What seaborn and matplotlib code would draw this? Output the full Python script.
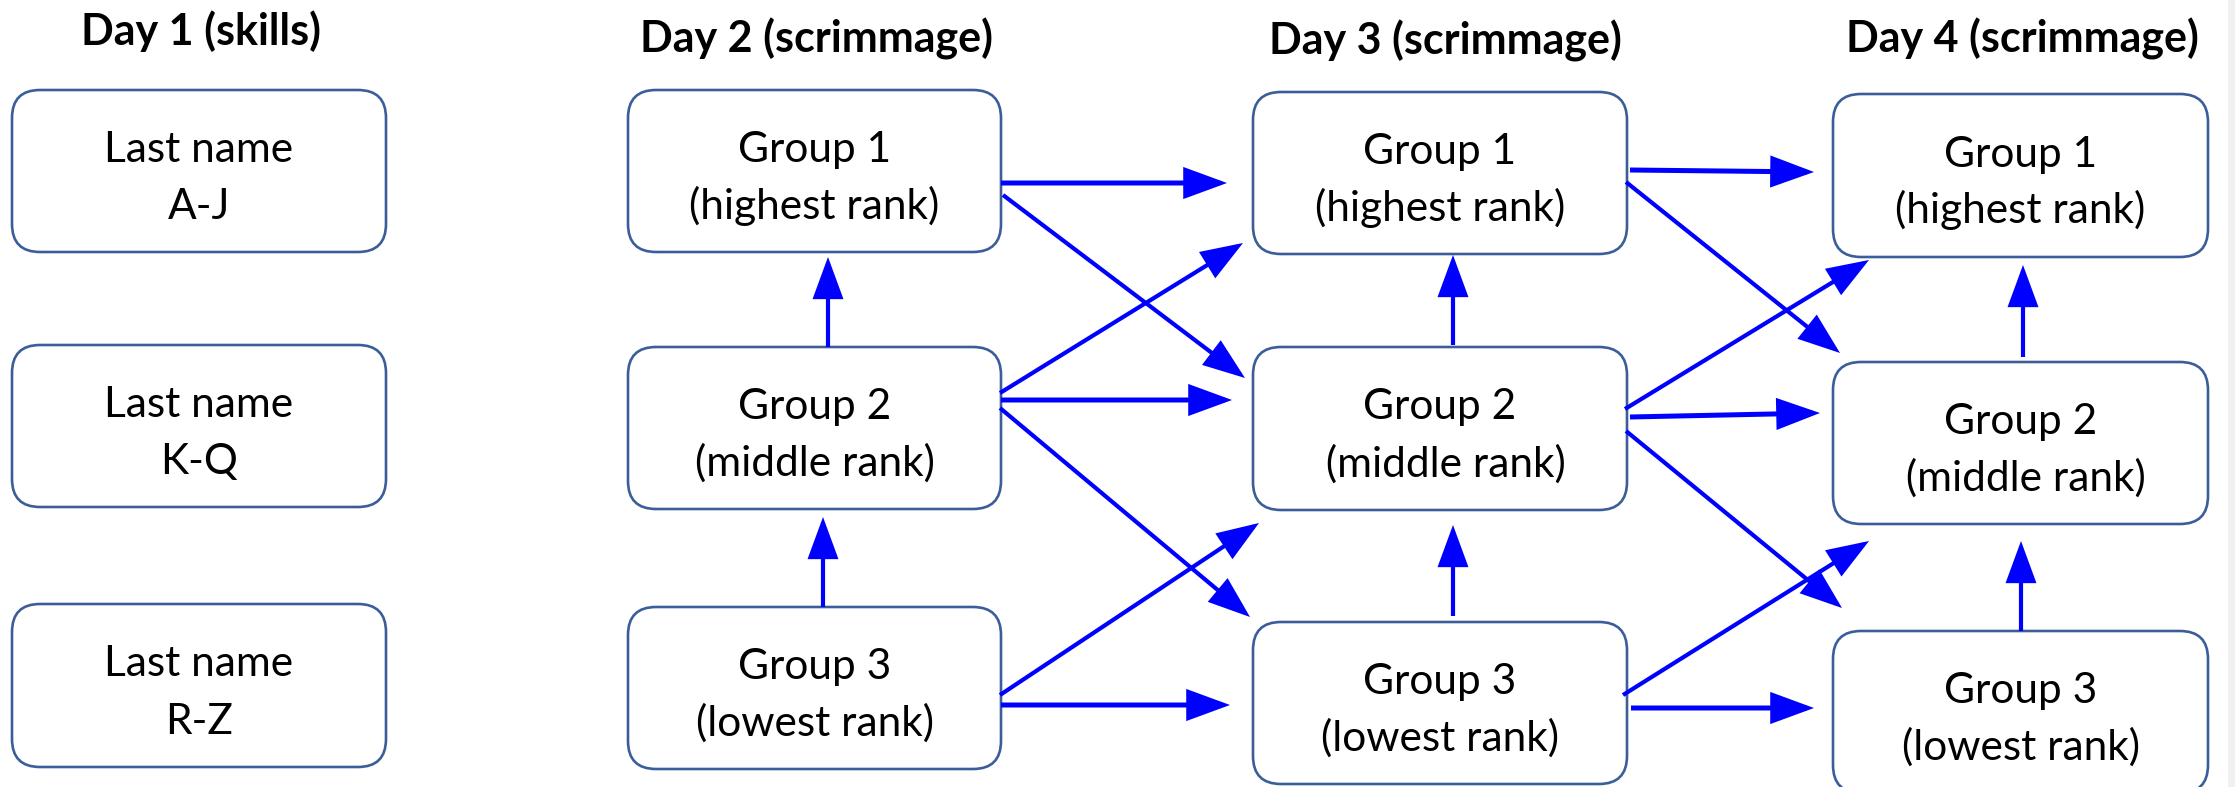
import matplotlib
matplotlib.use("Agg")
import matplotlib.pyplot as plt
from matplotlib.patches import FancyBboxPatch, FancyArrowPatch, Rectangle
import seaborn as sns

# ---------------- content ----------------
day_titles = ["Day 1 (skills)", "Day 2 (scrimmage)", "Day 3 (scrimmage)", "Day 4 (scrimmage)"]
day1_labels = ["Last name\nA-J", "Last name\nK-Q", "Last name\nR-Z"]
group_names = ["Group 1", "Group 2", "Group 3"]
group_ranks = ["(highest rank)", "(middle rank)", "(lowest rank)"]
# leading space before the rank text, as typed in the original boxes
rank_prefix = [["", "", ""], ["", " ", ""], ["", " ", ""]]

# moves between days (from group -> to group), and promotions within a day (lower -> upper)
day_moves = [(1, 1), (1, 2), (2, 1), (2, 2), (2, 3), (3, 2), (3, 3)]
in_day_moves = [(2, 1), (3, 2)]

# ---------------- layout (pixels) ----------------
W, H = 2235, 787
box_x = [(12, 386), (628, 1001), (1253, 1627), (1833, 2208)]
box_y = [[(90, 252), (345, 507), (604, 767)],
         [(90, 252), (347, 509), (607, 769)],
         [(92, 254), (347, 510), (622, 784)],
         [(94, 257), (362, 524), (631, 793)]]
title_pos = [(201, 45), (816, 53), (1445, 54), (2022, 53)]

# arrow anchors: (transition day index, from, to) -> (start, tip)
move_anchor = {
    (1, 1, 1): ((1001, 183), (1227, 183)),
    (1, 1, 2): ((1003, 195), (1245, 378)),
    (1, 2, 1): ((1000, 393), (1243, 243)),
    (1, 2, 2): ((1001, 400), (1232, 400)),
    (1, 2, 3): ((1000, 408), (1250, 617)),
    (1, 3, 2): ((1000, 695), (1259, 523)),
    (1, 3, 3): ((1001, 705), (1230, 705)),
    (2, 1, 1): ((1630, 170), (1814, 172)),
    (2, 1, 2): ((1626, 182), (1840, 353)),
    (2, 2, 1): ((1625, 409), (1869, 260)),
    (2, 2, 2): ((1630, 417), (1820, 413)),
    (2, 2, 3): ((1626, 431), (1842, 608)),
    (2, 3, 2): ((1623, 695), (1869, 541)),
    (2, 3, 3): ((1631, 708), (1814, 708)),
}
promo_anchor = {
    (1, 2, 1): ((828, 347), (828, 257)),
    (1, 3, 2): ((823, 607), (823, 517)),
    (2, 2, 1): ((1453, 345), (1453, 255)),
    (2, 3, 2): ((1453, 616), (1453, 525)),
    (3, 2, 1): ((2023, 357), (2023, 265)),
    (3, 3, 2): ((2021, 631), (2021, 541)),
}

BOX_EDGE = "#3B5E9B"
ARROW = "#0000FF"

sns.set_theme(style="white")
plt.rcParams["font.family"] = ["Lato", "DejaVu Sans"]

fig = plt.figure(figsize=(W / 100, H / 100), dpi=100)
ax = fig.add_axes([0, 0, 1, 1])
ax.set_xlim(0, W)
ax.set_ylim(H, 0)
ax.axis("off")

# faint strip at right edge
ax.add_patch(Rectangle((2228, 0), 7, H, facecolor="#f0f0f0", edgecolor="none"))

# titles
for t, (tx, ty) in zip(day_titles, title_pos):
    ax.text(tx, ty, t, ha="center", va="baseline", fontsize=31, fontweight="bold", color="black")

# boxes
for d in range(4):
    x0, x1 = box_x[d]
    for g in range(3):
        y0, y1 = box_y[d][g]
        ax.add_patch(FancyBboxPatch((x0, y0), x1 - x0, y1 - y0,
                                    boxstyle="round,pad=0,rounding_size=28",
                                    facecolor="white", edgecolor=BOX_EDGE, linewidth=1.9))
        if d == 0:
            l1, l2 = day1_labels[g].split("\n")
        else:
            l1 = group_names[g]
            l2 = rank_prefix[d - 1][g] + group_ranks[g] if d < 4 else group_ranks[g]
        cx = (x0 + x1) / 2
        cy = (y0 + y1) / 2
        ax.text(cx, cy - 9, l1, ha="center", va="baseline", fontsize=30.5, color="black")
        ax.text(cx, cy + 48, l2, ha="center", va="baseline", fontsize=30.5, color="black")


def draw_arrow(p0, p1, lw):
    ax.add_patch(FancyArrowPatch(p0, p1, arrowstyle="-|>,head_length=2.45,head_width=0.9",
                                 mutation_scale=10, shrinkA=0, shrinkB=0,
                                 color=ARROW, linewidth=lw, capstyle="butt", joinstyle="miter"))


for t in (1, 2):
    for f, to in day_moves:
        p0, p1 = move_anchor[(t, f, to)]
        draw_arrow(p0, p1, 3.6 if f == to else 3.0)
for d in (1, 2, 3):
    for f, to in in_day_moves:
        p0, p1 = promo_anchor[(d, f, to)]
        draw_arrow(p0, p1, 3.0)

fig.savefig("out.png", dpi=100, facecolor="white")
